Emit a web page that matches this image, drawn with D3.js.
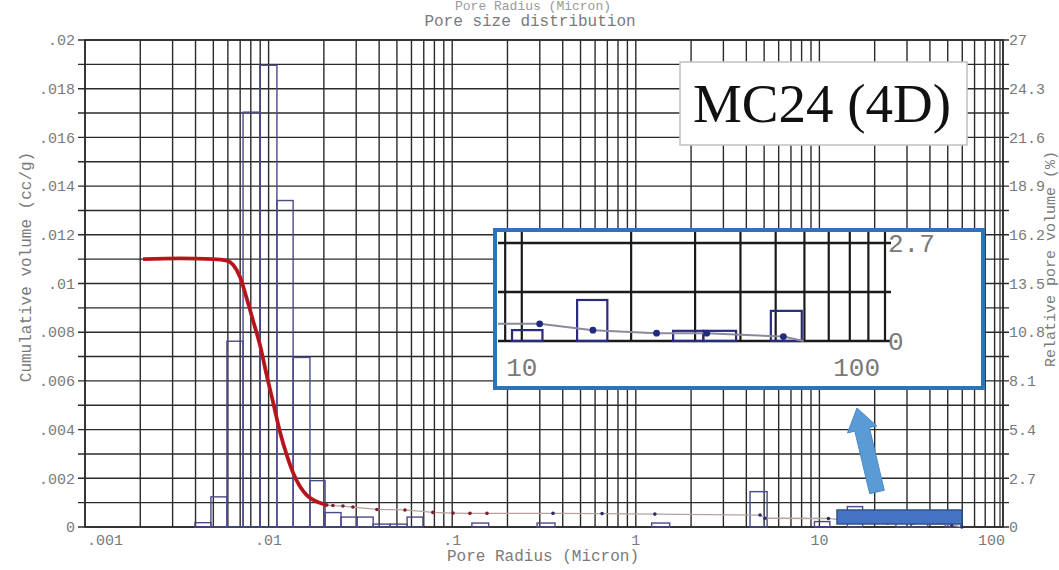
<!DOCTYPE html>
<html><head><meta charset="utf-8">
<script src="https://cdn.jsdelivr.net/npm/d3@7"></script>
<style>body{margin:0;background:#fff}svg{display:block}</style>
</head><body><svg id="c" width="1059" height="570"></svg>
<script>
// ---- data ----
const xTickVals = [0.001, 0.01, 0.1, 1, 10, 100];
const xTickLabels = [".001", ".01", ".1", "1", "10", "100"];
const leftTickVals = [0, 0.002, 0.004, 0.006, 0.008, 0.01, 0.012, 0.014, 0.016, 0.018, 0.02];
const leftTickLabels = ["0", ".002", ".004", ".006", ".008", ".01", ".012", ".014", ".016", ".018", ".02"];
const rightTickVals = [0, 2.7, 5.4, 8.1, 10.8, 13.5, 16.2, 18.9, 21.6, 24.3, 27];
const rightTickLabels = ["0", "2.7", "5.4", "8.1", "10.8", "13.5", "16.2", "18.9", "21.6", "24.3", "27"];
// histogram bins (pore radius, micron) and relative pore volume (%)
const binLo = [0.00397, 0.00485, 0.00593, 0.00726, 0.00897, 0.0111, 0.0136, 0.0168, 0.0203, 0.0248, 0.0303, 0.0371, 0.0458, 0.0568, 0.128, 0.290, 1.22, 4.19, 9.40, 14.2, 26.1, 31.6, 48.5];
const binHi = [0.00485, 0.00593, 0.00726, 0.00897, 0.0111, 0.0136, 0.0168, 0.0203, 0.0248, 0.0303, 0.0371, 0.0458, 0.0568, 0.0693, 0.158, 0.363, 1.53, 5.19, 11.4, 17.2, 31.6, 38.9, 59.0];
const relVol = [0.24, 1.67, 10.3, 23.0, 25.6, 18.1, 9.4, 2.57, 0.80, 0.55, 0.55, 0.16, 0.16, 0.55, 0.22, 0.22, 0.22, 1.96, 0.30, 1.13, 0.28, 0.28, 0.83];
// cumulative volume curve (cc/g)
const cumR = [0.00207, 0.00329, 0.0050, 0.00591, 0.00642, 0.00698, 0.0076, 0.00826, 0.00898, 0.00976, 0.01061, 0.01153, 0.01255, 0.01363, 0.01483, 0.01612, 0.01752, 0.02072,
  0.0224, 0.0254, 0.0288, 0.0389, 0.0553, 0.0785, 0.101, 0.125, 0.1546, 0.354, 0.655, 1.27, 4.75, 5.06, 11.2, 15.7, 23.5, 32.3, 52.5, 59.7];
const cumV = [0.0110, 0.01103, 0.0110, 0.01094, 0.01076, 0.01028, 0.00939, 0.00843, 0.00747, 0.00624, 0.00508, 0.00391, 0.00296, 0.00221, 0.00166, 0.00131, 0.00111, 0.00090,
  0.00088, 0.00086, 0.00082, 0.00072, 0.00070, 0.00060, 0.00057, 0.00056, 0.00056, 0.00056, 0.00055, 0.00053, 0.00049, 0.00036, 0.00035, 0.00022, 0.00016, 0.00016, 0.00009, 0.0];
const redEnd = 0.0208;   // end of thick red section
const pctPerCc = 1350;   // 27 % == 0.02 cc/g

// ---- main chart ----
const svg = d3.select("#c");
const L = 85, R = 1003, T = 40, B = 527;
const x = d3.scaleLog().domain([0.001, 100]).range([L, R]);
const yL = d3.scaleLinear().domain([0, 0.02]).range([B, T]);
const yR = d3.scaleLinear().domain([0, 27]).range([B, T]);
const mono = "'Liberation Mono', 'DejaVu Sans Mono', monospace";
const txtCol = "#7a7a7a";
const gridCol = "#2b2b2b";

const g = svg.append("g");
// grid
g.selectAll("line.v").data(x.ticks()).join("line")
  .attr("x1", d => x(d)).attr("x2", d => x(d)).attr("y1", T).attr("y2", B)
  .attr("stroke", gridCol).attr("stroke-width", 1.4);
g.selectAll("line.h").data(yL.ticks(20)).join("line")
  .attr("x1", L - 7).attr("x2", R + 6).attr("y1", d => yL(d)).attr("y2", d => yL(d))
  .attr("stroke", gridCol).attr("stroke-width", 1.4);
g.append("rect").attr("x", L).attr("y", T).attr("width", R - L).attr("height", B - T)
  .attr("fill", "none").attr("stroke", gridCol).attr("stroke-width", 1.6);
g.append("line").attr("x1", R - 3).attr("x2", R - 3).attr("y1", T).attr("y2", B).attr("stroke", gridCol).attr("stroke-width", 1.2);

// axis labels
g.selectAll("text.lt").data(leftTickVals).join("text")
  .attr("x", L - 10).attr("y", d => yL(d)).attr("dy", "0.35em").attr("text-anchor", "end")
  .attr("font-family", mono).attr("font-size", 15).attr("fill", txtCol)
  .text((d, i) => leftTickLabels[i]);
g.selectAll("text.rt").data(rightTickVals).join("text")
  .attr("x", R + 6).attr("y", d => yR(d)).attr("dy", "0.35em").attr("text-anchor", "start")
  .attr("font-family", mono).attr("font-size", 15).attr("fill", txtCol)
  .text((d, i) => rightTickLabels[i]);
g.selectAll("text.bt").data(xTickVals).join("text")
  .attr("x", d => x(d)).attr("y", 545)
  .attr("text-anchor", (d, i) => i === 0 ? "start" : (i === xTickVals.length - 1 ? "end" : "middle"))
  .attr("dx", (d, i) => i === 0 ? 2 : (i === xTickVals.length - 1 ? 2 : 0))
  .attr("font-family", mono).attr("font-size", 15).attr("fill", txtCol)
  .text((d, i) => xTickLabels[i]);
g.append("text").attr("x", 543).attr("y", 561).attr("text-anchor", "middle")
  .attr("font-family", mono).attr("font-size", 16).attr("fill", txtCol).text("Pore Radius (Micron)");
g.append("text").attr("x", 533).attr("y", 10).attr("text-anchor", "middle")
  .attr("font-family", mono).attr("font-size", 13).attr("fill", "#9a9a9a").text("Pore Radius (Micron)");
g.append("text").attr("x", 530).attr("y", 26).attr("text-anchor", "middle")
  .attr("font-family", mono).attr("font-size", 16).attr("fill", txtCol).text("Pore size distribution");
g.append("text").attr("transform", "translate(25,267) rotate(-90)").attr("dy", "0.35em").attr("text-anchor", "middle")
  .attr("font-family", mono).attr("font-size", 16).attr("fill", txtCol).text("Cumulative volume (cc/g)");
g.append("text").attr("transform", "translate(1050,259) rotate(-90)").attr("dy", "0.35em").attr("text-anchor", "middle")
  .attr("font-family", mono).attr("font-size", 15).attr("fill", txtCol).text("Relative pore volume (%)");

// histogram
const bins = relVol.map((v, i) => ({lo: binLo[i], hi: binHi[i], v}));
g.selectAll("rect.bar").data(bins).join("rect")
  .attr("x", d => x(d.lo)).attr("width", d => x(d.hi) - x(d.lo))
  .attr("y", d => yR(d.v)).attr("height", d => B - yR(d.v))
  .attr("fill", "none").attr("stroke", "#4a4a88").attr("stroke-width", 1.4);

// cumulative curve
const pts = cumR.map((r, i) => ({r, v: cumV[i]}));
const redPts = pts.filter(p => p.r <= redEnd);
const tailPts = pts.filter(p => p.r >= 0.0207);
const lineMain = d3.line().x(d => x(d.r)).y(d => yL(d.v)).curve(d3.curveMonotoneX);
g.append("path").attr("d", d3.line().x(d => x(d.r)).y(d => yL(d.v))(tailPts))
  .attr("fill", "none").attr("stroke", "#b8a0a0").attr("stroke-width", 1.3);
g.selectAll("circle.dot").data(tailPts).join("circle")
  .attr("cx", d => x(d.r)).attr("cy", d => yL(d.v)).attr("r", 1.8)
  .attr("fill", d => d.r < 0.2 ? "#7a1f2a" : "#2a2a6a");
g.append("path").attr("d", lineMain(redPts)).attr("fill", "none")
  .attr("stroke", "#c0181f").attr("stroke-width", 3.8).attr("stroke-linejoin", "round");
g.append("path").attr("d", lineMain(redPts)).attr("fill", "none")
  .attr("stroke", "#8a1016").attr("stroke-width", 1).attr("opacity", 0.6);

// highlighted region marker and arrow
g.append("rect").attr("x", 837).attr("y", 510).attr("width", 125).attr("height", 14)
  .attr("fill", "#4472c4").attr("stroke", "#2f528f").attr("stroke-width", 1.5);
(function arrow() {
  const x0 = 877, y0 = 492, x1 = 857, y1 = 408;
  const dx = x1 - x0, dy = y1 - y0, len = Math.hypot(dx, dy);
  const ux = dx / len, uy = dy / len, nx = -uy, ny = ux;
  const sw = 7.5, hw = 15, hl = 22;
  const bx = x1 - ux * hl, by = y1 - uy * hl;
  const p = [[x0 + nx * sw, y0 + ny * sw], [bx + nx * sw, by + ny * sw], [bx + nx * hw, by + ny * hw], [x1, y1],
    [bx - nx * hw, by - ny * hw], [bx - nx * sw, by - ny * sw], [x0 - nx * sw, y0 - ny * sw]];
  g.append("path").attr("d", "M" + p.map(q => q.join(",")).join("L") + "Z")
    .attr("fill", "#5b9bd5").attr("stroke", "#4a8ac8").attr("stroke-width", 1);
})();

// ---- sample label box ----
g.append("rect").attr("x", 680).attr("y", 62).attr("width", 287).attr("height", 83)
  .attr("fill", "#fff").attr("stroke", "#c4c4c4").attr("stroke-width", 1.6);
g.append("text").attr("x", 822).attr("y", 122).attr("text-anchor", "middle")
  .attr("font-family", "'Liberation Serif', 'Times New Roman', serif").attr("font-size", 55)
  .attr("fill", "#111").text("MC24 (4D)");

// ---- inset (zoom of 10-100 micron) ----
const IL = 498, IR = 885, IT = 232, IB = 341;
const xi = d3.scaleLog().domain([8.6, 100]).range([IL, IR]);
const yi = d3.scaleLinear().domain([0, 2.7]).range([IB, 243]);
const ig = svg.append("g");
ig.append("rect").attr("x", 495).attr("y", 230).attr("width", 488).attr("height", 158).attr("fill", "#fff");
ig.append("clipPath").attr("id", "ic").append("rect").attr("x", IL).attr("y", IT).attr("width", IR - IL + 8).attr("height", IB - IT + 2);
const ic = ig.append("g").attr("clip-path", "url(#ic)");
ic.selectAll("line.iv").data(xi.ticks()).join("line")
  .attr("x1", d => xi(d)).attr("x2", d => xi(d)).attr("y1", IT).attr("y2", IB)
  .attr("stroke", "#1a1a1a").attr("stroke-width", 2.2);
ic.selectAll("line.ih").data([0, 1.35, 2.7]).join("line")
  .attr("x1", IL).attr("x2", IR + 6).attr("y1", d => yi(d)).attr("y2", d => yi(d))
  .attr("stroke", "#1a1a1a").attr("stroke-width", 2.4);
const inBins = bins.filter(d => d.hi > 8.6);
ic.selectAll("rect.ib").data(inBins).join("rect")
  .attr("x", d => xi(d.lo)).attr("width", d => xi(d.hi) - xi(d.lo))
  .attr("y", d => yi(d.v)).attr("height", d => IB - yi(d.v))
  .attr("fill", "none").attr("stroke", "#2b2b7e").attr("stroke-width", 2.2);
const inPts = pts.filter(p => p.r >= 5);
ic.append("path").attr("d", d3.line().x(d => xi(d.r)).y(d => yi(d.v * pctPerCc))(inPts))
  .attr("fill", "none").attr("stroke", "#8a8a9a").attr("stroke-width", 2);
ic.selectAll("circle.id").data(inPts.filter(p => p.r > 8.6 && p.v > 0)).join("circle")
  .attr("cx", d => xi(d.r)).attr("cy", d => yi(d.v * pctPerCc)).attr("r", 3.4).attr("fill", "#1f2a80");
ig.selectAll("text.ix").data([10, 100]).join("text")
  .attr("x", d => d === 100 ? 880 : xi(d)).attr("y", 376)
  .attr("text-anchor", d => d === 100 ? "end" : "middle")
  .attr("font-family", mono).attr("font-size", 26).attr("fill", txtCol).text(d => d);
ig.selectAll("text.iy").data([0, 2.7]).join("text")
  .attr("x", 888).attr("y", d => yi(d)).attr("dy", "0.35em")
  .attr("font-family", mono).attr("font-size", 26).attr("fill", txtCol).text(d => d);
ig.append("rect").attr("x", 495).attr("y", 230).attr("width", 488).attr("height", 158)
  .attr("fill", "none").attr("stroke", "#2e74b5").attr("stroke-width", 4);
</script></body></html>
